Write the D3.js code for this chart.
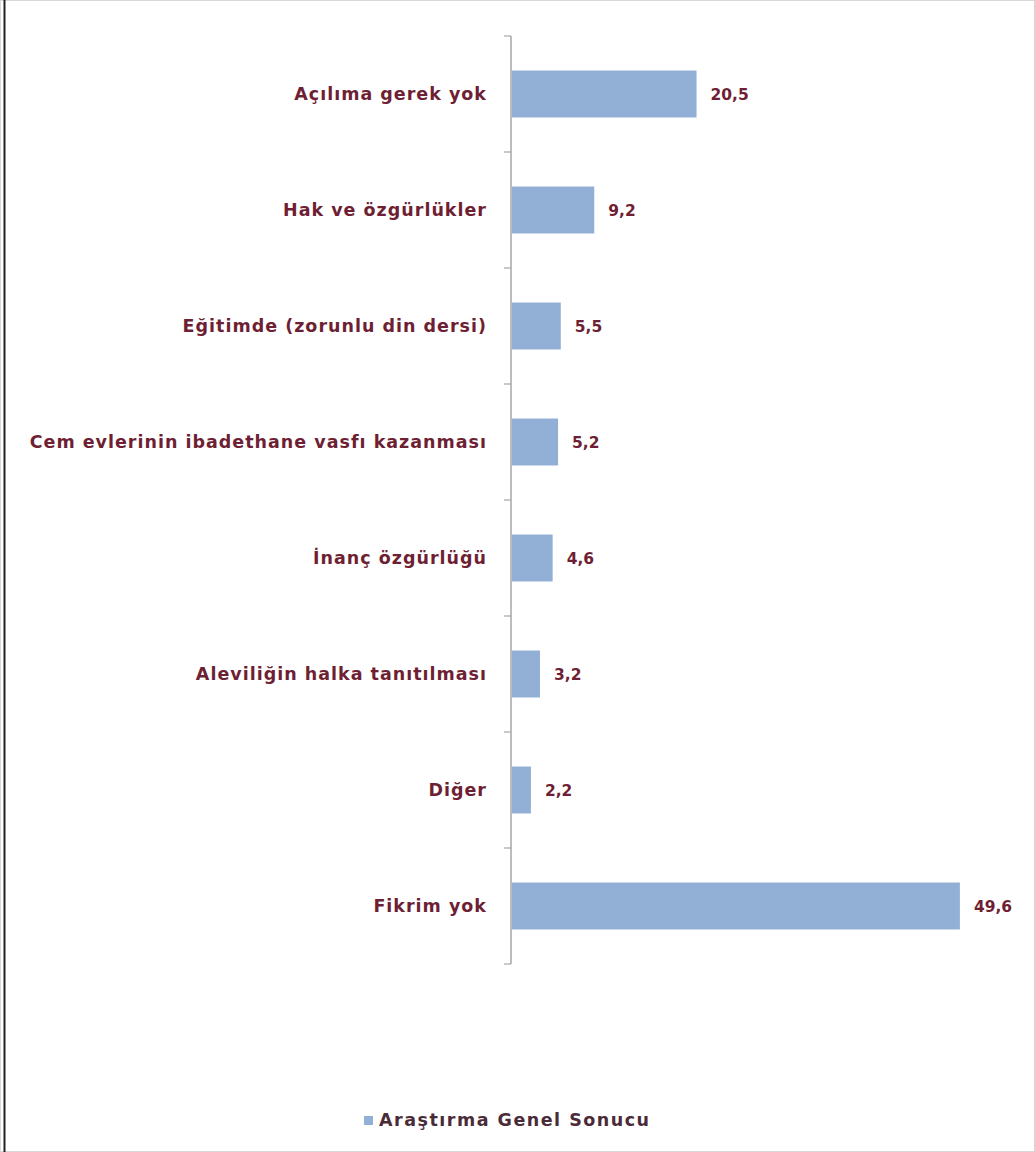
<!DOCTYPE html>
<html><head><meta charset="utf-8">
<script src="https://cdn.jsdelivr.net/npm/d3@7"></script>
<style>body{margin:0;background:#fff}svg{display:block}</style>
</head><body>
<script>
const categories = ["Açılıma gerek yok","Hak ve özgürlükler","Eğitimde (zorunlu din dersi)","Cem evlerinin ibadethane vasfı kazanması","İnanç özgürlüğü","Aleviliğin halka tanıtılması","Diğer","Fikrim yok"];
const values = [20.5, 9.2, 5.5, 5.2, 4.6, 3.2, 2.2, 49.6];
const valueLabels = ["20,5","9,2","5,5","5,2","4,6","3,2","2,2","49,6"];
const seriesName = "Araştırma Genel Sonucu";

const W = 1035, H = 1152;
const svg = d3.select("body").append("svg").attr("width", W).attr("height", H);
svg.append("rect").attr("x",0.5).attr("y",0.5).attr("width",W-1).attr("height",H-1).attr("fill","#fff").attr("stroke","#d8d8d8");
svg.append("line").attr("x1",4.5).attr("x2",4.5).attr("y1",0).attr("y2",H).attr("stroke","#222").attr("stroke-width",2);

const x = d3.scaleLinear().domain([0,50]).range([511, 963.5]);
const y = d3.scaleBand().domain(categories).range([36, 964]).paddingInner(0.595).paddingOuter(0.2975);

const font = "'DejaVu Sans', sans-serif";
const labelColor = "#6e1f33";

const boundaries = d3.range(categories.length + 1).map(i => 36 + i * (964 - 36) / categories.length);
const g = svg.append("g");
g.append("line").attr("x1",511).attr("x2",511).attr("y1",36).attr("y2",964).attr("stroke","#a6a6a6").attr("stroke-width",1.5);
g.selectAll("line.tick").data(boundaries).enter().append("line").attr("class","tick")
  .attr("x1",504).attr("x2",511).attr("y1",d=>d).attr("y2",d=>d).attr("stroke","#a6a6a6").attr("stroke-width",1.2);

svg.selectAll("rect.bar").data(values).enter().append("rect").attr("class","bar")
  .attr("x", x(0)+1).attr("y",(d,i)=>y(categories[i])).attr("width",d=>x(d)-x(0)-1).attr("height",y.bandwidth())
  .attr("fill","#92afd5");

svg.selectAll("text.cat").data(categories).enter().append("text").attr("class","cat")
  .attr("x",487).attr("y",d=>y(d)+y.bandwidth()/2).attr("dy","0.36em").attr("text-anchor","end")
  .attr("font-family",font).attr("font-weight",700).attr("font-size",17.5).attr("letter-spacing",1)
  .attr("fill",labelColor).text(d=>d);

svg.selectAll("text.val").data(values).enter().append("text").attr("class","val")
  .attr("x",d=>x(d)+14).attr("y",(d,i)=>y(categories[i])+y.bandwidth()/2).attr("dy","0.36em")
  .attr("font-family",font).attr("font-weight",700).attr("font-size",15.5).attr("fill",labelColor)
  .text((d,i)=>valueLabels[i]);

svg.append("rect").attr("x",364).attr("y",1116).attr("width",9).attr("height",9).attr("fill","#92afd5");
svg.append("text").attr("x",379).attr("y",1120).attr("dy","0.36em").attr("font-family",font).attr("font-weight",700)
  .attr("font-size",17.5).attr("letter-spacing",1.5).attr("fill","#4a2b37").text(seriesName);
</script>
</body></html>
